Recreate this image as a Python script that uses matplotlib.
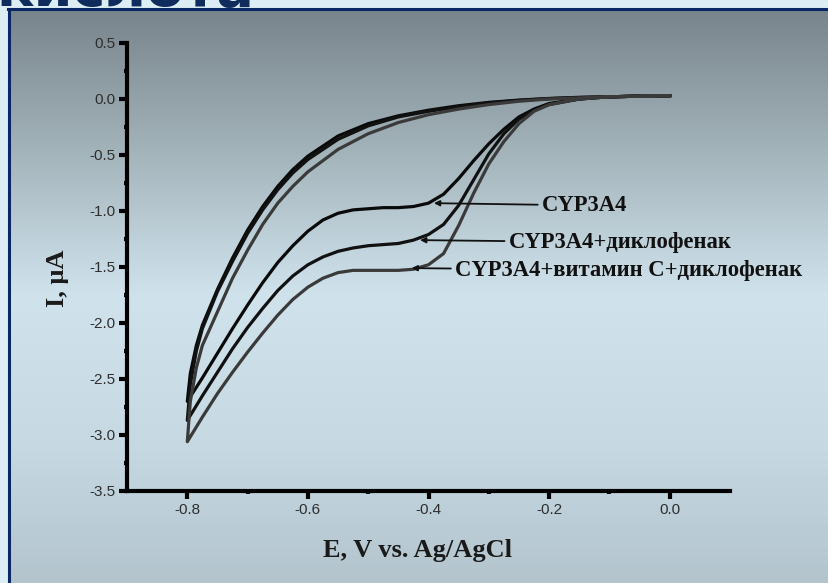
import matplotlib
matplotlib.use("Agg")
import matplotlib.pyplot as plt
import numpy as np
from matplotlib.colors import LinearSegmentedColormap
from matplotlib.lines import Line2D

# potential points, cathodic (forward) scan 0 -> -0.8 V
e_fwd = [0.0, -0.05, -0.1, -0.15, -0.2, -0.225, -0.25, -0.275, -0.3, -0.325,
         -0.35, -0.375, -0.4, -0.425, -0.45, -0.475, -0.5, -0.525, -0.55,
         -0.575, -0.6, -0.625, -0.65, -0.675, -0.7, -0.725, -0.75, -0.775, -0.8]
# reverse scan -0.8 -> 0 V
e_rev = [-0.8, -0.795, -0.785, -0.775, -0.75, -0.725, -0.7, -0.675, -0.65,
         -0.625, -0.6, -0.55, -0.5, -0.45, -0.4, -0.35, -0.3, -0.25, -0.2,
         -0.15, -0.1, -0.05, 0.0]

# current, uA
cyp_fwd = [0.03, 0.025, 0.02, 0.0, -0.04, -0.09, -0.16, -0.27, -0.40, -0.55,
           -0.71, -0.85, -0.93, -0.96, -0.97, -0.97, -0.98, -0.99, -1.02,
           -1.08, -1.18, -1.31, -1.46, -1.64, -1.84, -2.05, -2.27, -2.49, -2.70]
cyp_rev = [-2.70, -2.45, -2.20, -2.02, -1.70, -1.42, -1.17, -0.96, -0.78,
           -0.63, -0.51, -0.33, -0.22, -0.15, -0.10, -0.06, -0.03, -0.01,
           0.005, 0.015, 0.02, 0.025, 0.03]
dic_fwd = [0.03, 0.025, 0.02, 0.0, -0.05, -0.10, -0.18, -0.31, -0.49, -0.72,
           -0.95, -1.12, -1.21, -1.26, -1.29, -1.30, -1.31, -1.33, -1.36,
           -1.41, -1.48, -1.58, -1.71, -1.87, -2.04, -2.23, -2.44, -2.65, -2.87]
dic_rev = [-2.87, -2.55, -2.25, -2.05, -1.72, -1.45, -1.20, -0.99, -0.81,
           -0.66, -0.54, -0.36, -0.24, -0.16, -0.11, -0.07, -0.035, -0.012,
           0.003, 0.013, 0.02, 0.025, 0.03]
vit_fwd = [0.03, 0.025, 0.02, 0.0, -0.05, -0.11, -0.22, -0.38, -0.58, -0.84,
           -1.13, -1.38, -1.48, -1.52, -1.53, -1.53, -1.53, -1.53, -1.55,
           -1.60, -1.68, -1.79, -1.93, -2.09, -2.26, -2.44, -2.63, -2.84, -3.06]
vit_rev = [-3.06, -2.70, -2.40, -2.20, -1.90, -1.60, -1.35, -1.12, -0.93,
           -0.78, -0.65, -0.45, -0.31, -0.21, -0.14, -0.09, -0.05, -0.02,
           0.0, 0.01, 0.02, 0.025, 0.03]

labels = ["CYP3A4", "CYP3A4+диклофенак", "CYP3A4+витамин C+диклофенак"]
arrow_tips = [(-0.391, -0.93), (-0.414, -1.26), (-0.428, -1.51)]
text_pos = [(-0.212, -0.95), (-0.267, -1.28), (-0.356, -1.53)]

x_ticks = [-0.8, -0.6, -0.4, -0.2, 0.0]
y_ticks = [0.5, 0.0, -0.5, -1.0, -1.5, -2.0, -2.5, -3.0, -3.5]

fig = plt.figure(figsize=(8.29, 5.83), dpi=100)
fig.patch.set_facecolor("#dcedf4")

# slide panel with vertical gradient
bg = fig.add_axes([9 / 829, 0, 1 - 9 / 829, 1 - 9 / 583], zorder=0)
grad = LinearSegmentedColormap.from_list(
    "panel", [(0.0, "#78848b"), (0.25, "#a4b4bb"), (0.5, "#d0e3ed"),
              (0.75, "#c7dae4"), (1.0, "#b3c4cd")])
bg.imshow(np.linspace(0, 1, 256).reshape(-1, 1), aspect="auto", cmap=grad,
          extent=[0, 1, 0, 1])
bg.set_axis_off()

navy = "#0b2866"
fig.add_artist(Line2D([9 / 829, 9 / 829], [0, 1 - 8.5 / 583], transform=fig.transFigure,
                      color=navy, lw=2.2))
fig.add_artist(Line2D([8 / 829, 1], [1 - 8.5 / 583, 1 - 8.5 / 583], transform=fig.transFigure,
                      color=navy, lw=2.2))
fig.text(-0.004, 1 - 6 / 583, "кислота", fontsize=40, fontweight="bold",
         color="#0f2c5c", family="DejaVu Sans", va="baseline", ha="left")

ax = fig.add_axes([127 / 829, 92 / 583, 603 / 829, 448 / 583], zorder=2)
ax.patch.set_alpha(0)

ax.plot(e_fwd + e_rev[1:], cyp_fwd + cyp_rev[1:], color="#0a0a0a", lw=2.3)
ax.plot(e_fwd + e_rev[1:], dic_fwd + dic_rev[1:], color="#111111", lw=2.3)
ax.plot(e_fwd + e_rev[1:], vit_fwd + vit_rev[1:], color="#3a3a3a", lw=2.3)

for lab, tip, pos in zip(labels, arrow_tips, text_pos):
    ax.annotate(lab, xy=tip, xytext=pos, ha="left", va="center",
                fontsize=16.3, fontweight="bold", family="Liberation Serif",
                color="#111111",
                arrowprops=dict(arrowstyle="-|>", color="#111111", lw=1.3,
                                mutation_scale=8, shrinkA=1, shrinkB=0))

ax.set_xlim(-0.9, 0.1)
ax.set_ylim(-3.5, 0.5)
ax.set_xticks(x_ticks)
ax.set_xticklabels(["%.1f" % v for v in x_ticks])
ax.set_yticks(y_ticks)
ax.set_yticklabels(["%.1f" % v for v in y_ticks])
ax.set_xticks([-0.7, -0.5, -0.3, -0.1], minor=True)
ax.set_yticks([0.25, -0.25, -0.75, -1.25, -1.75, -2.25, -2.75, -3.25], minor=True)

for s in ["top", "right"]:
    ax.spines[s].set_visible(False)
for s in ["left", "bottom"]:
    ax.spines[s].set_linewidth(3)
    ax.spines[s].set_color("black")
    ax.spines[s].set_capstyle("projecting")

ax.tick_params(which="major", direction="out", length=5.5, width=3,
               labelsize=11, labelcolor="#2e2e2e", pad=3)
ax.tick_params(which="minor", direction="out", length=2.5, width=3)
for t in ax.get_xticklabels() + ax.get_yticklabels():
    t.set_family("Liberation Sans")

ax.set_xlabel("E, V vs. Ag/AgCl", fontsize=19, fontweight="bold",
              family="Liberation Serif", color="#1a1a1a", va="center")
ax.set_ylabel("I, μA", fontsize=19, fontweight="bold",
              family="Liberation Serif", color="#1a1a1a", va="center")
ax.xaxis.set_label_coords(0.481, -0.132)
ax.yaxis.set_label_coords(-0.116, 0.475)

fig.savefig("out.png", dpi=100)
